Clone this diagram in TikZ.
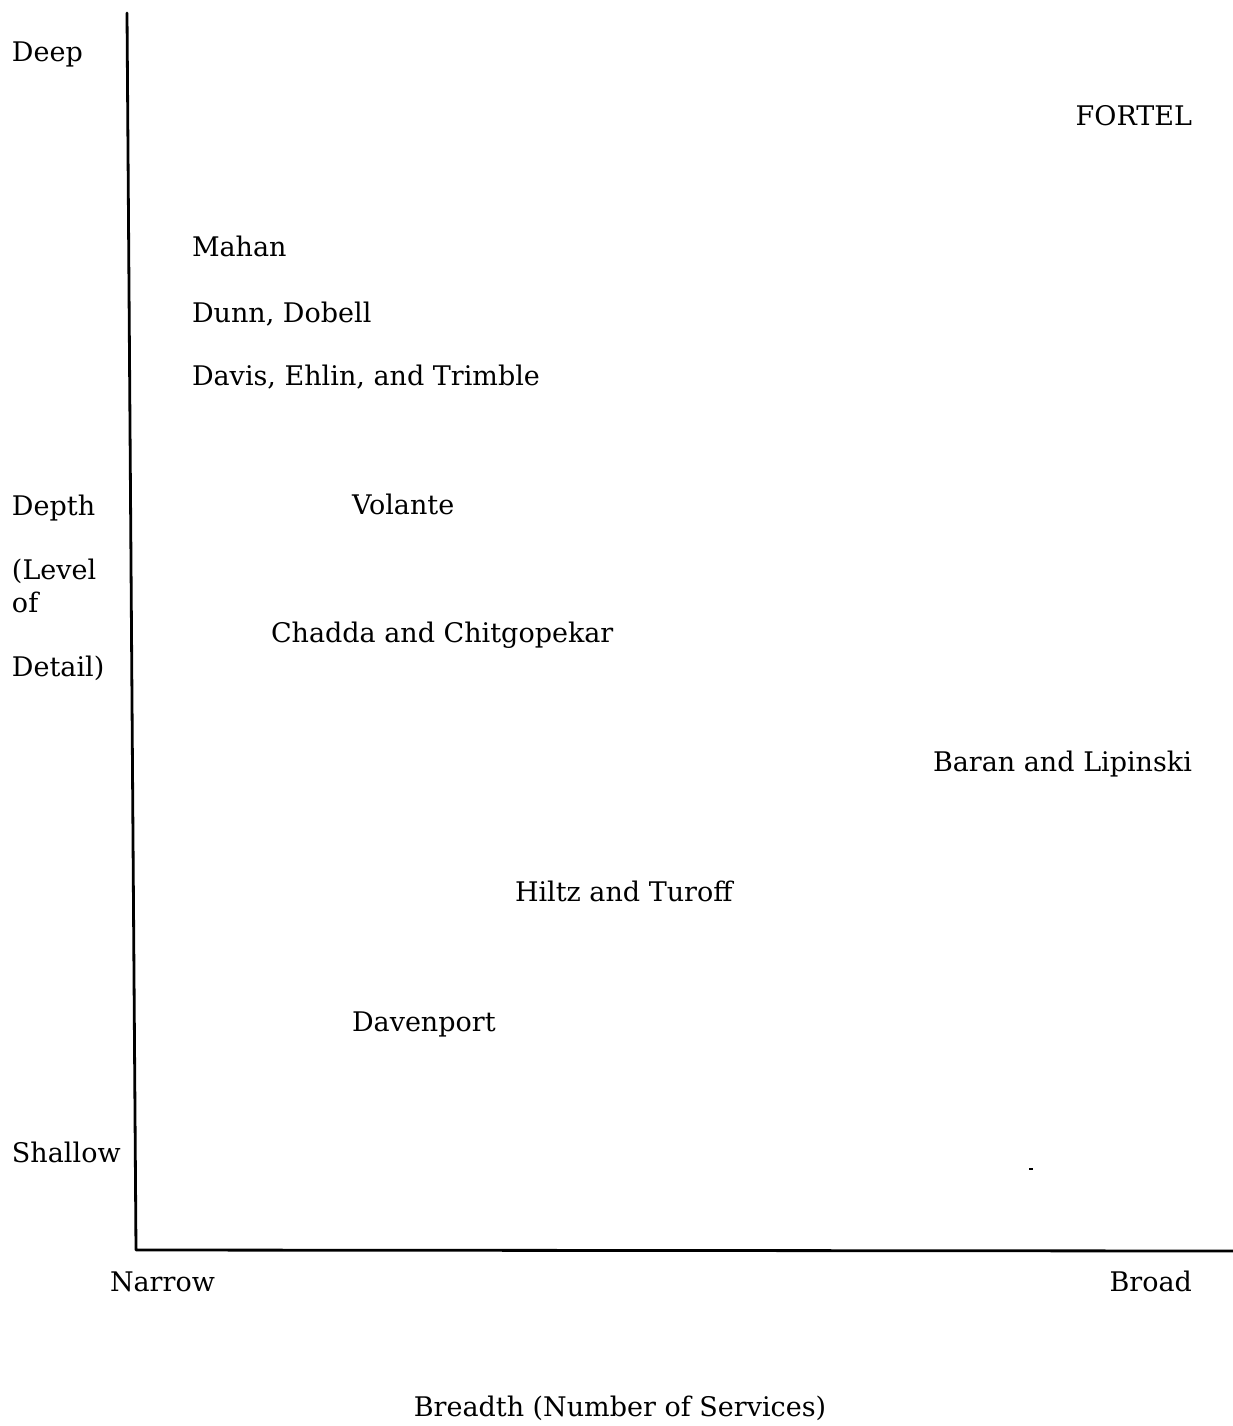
\documentclass[tikz,border=0pt]{standalone}
\usepackage{fontspec}
\setmainfont{DejaVu Serif}
\begin{document}
\begin{tikzpicture}[x=1pt,y=-1pt,
  lbl/.style={inner sep=0pt,outer sep=0pt,anchor=base west,font=\fontsize{27}{31}\selectfont},
  lblr/.style={lbl,anchor=base east},
  axis/.style={line width=2.8pt,line cap=round,line join=round}]
  \useasboundingbox[fill=white] (0,0) rectangle (1233,1426);

  % axes
  \coordinate (ytop) at (127,13);
  \coordinate (origin) at (136,1250);
  \coordinate (xend) at (1233,1251);
  \draw[axis] (ytop) -- (origin) -- (xend);

  % vertical axis labels
  \node[lbl] (deep) at (12,62) {Deep};
  \node[lbl] (depth) at (12,515) {Depth};
  \node[lbl] (level) at (12,579) {(Level};
  \node[lbl] (of) at (12,612) {of};
  \node[lbl] (detail) at (12,676) {Detail)};
  \node[lbl] (shallow) at (12,1162) {Shallow};

  % horizontal axis labels
  \node[lbl] (narrow) at (110,1291) {Narrow};
  \node[lblr] (broad) at (1192,1291) {Broad};
  \node[lbl,anchor=base] (breadth) at (620,1416) {Breadth (Number of Services)};

  % systems placed by breadth and depth
  \node[lblr] (fortel) at (1192,125) {FORTEL};
  \node[lbl] (mahan) at (192,256) {Mahan};
  \node[lbl] (dunn) at (192,322) {Dunn, Dobell};
  \node[lbl] (davis) at (192,385) {Davis, Ehlin, and Trimble};
  \node[lbl] (volante) at (352,514) {Volante};
  \node[lbl] (chadda) at (271,642) {Chadda and Chitgopekar};
  \node[lblr] (baran) at (1192,771) {Baran and Lipinski};
  \node[lbl] (hiltz) at (515,901) {Hiltz and Turoff};
  \node[lbl] (davenport) at (352,1031) {Davenport};

  % small speck
  \fill (1029,1168) rectangle (1033,1170);
\end{tikzpicture}
\end{document}
